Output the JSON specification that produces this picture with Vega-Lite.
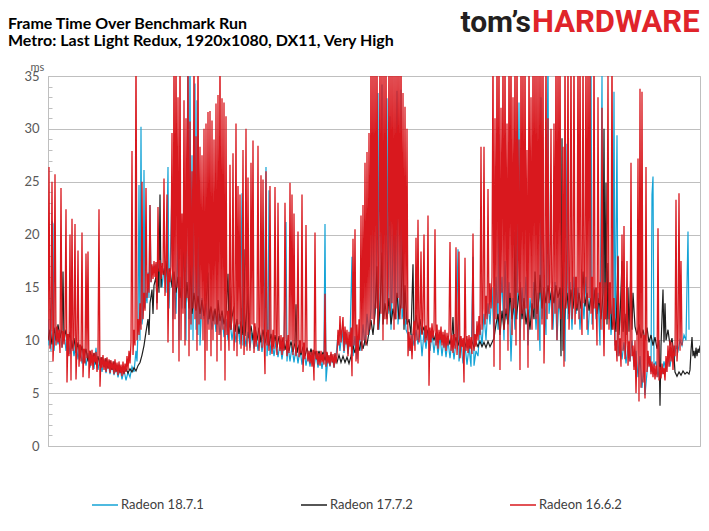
{
  "$schema": "https://vega.github.io/schema/vega-lite/v6.json",
  "width": 652,
  "height": 370,
  "autosize": {"type": "none"},
  "padding": {"left": 48, "top": 76, "right": 9, "bottom": 85},
  "background": "#ffffff",
  "title": {
    "text": ["Frame Time Over Benchmark Run", "Metro: Last Light Redux, 1920x1080, DX11, Very High"],
    "anchor": "start",
    "frame": "group",
    "dx": -40,
    "dy": -8,
    "offset": -50,
    "font": "Lato",
    "fontSize": 16,
    "fontWeight": "bold",
    "lineHeight": 17,
    "color": "#000000"
  },
  "datasets": {
    "c18": [
      {"x":0,"y":12.0},{"x":1,"y":9.5},{"x":2,"y":11.0},{"x":3,"y":9.0},{"x":4,"y":21.3},{"x":5,"y":21.0},{"x":6,"y":9.0},{"x":8,"y":11.2},{"x":10,"y":9.6},{"x":12,"y":11.0},{"x":14,"y":9.3},{"x":16,"y":10.8},{"x":18,"y":9.0},{"x":20,"y":10.5},{"x":22,"y":8.7},{"x":24,"y":10.0},{"x":26,"y":8.5},{"x":28,"y":9.8},{"x":30,"y":8.2},{"x":32,"y":9.4},{"x":34,"y":7.8},{"x":36,"y":9.0},{"x":38,"y":7.6},{"x":40,"y":8.8},{"x":42,"y":7.4},{"x":44,"y":8.6},{"x":46,"y":7.3},{"x":48,"y":9.3},{"x":50,"y":7.2},{"x":52,"y":8.3},{"x":54,"y":7.0},{"x":56,"y":8.2},{"x":58,"y":6.9},{"x":60,"y":8.0},{"x":62,"y":6.8},{"x":64,"y":7.8},{"x":66,"y":6.7},{"x":68,"y":7.6},{"x":70,"y":6.5},{"x":72,"y":7.4},{"x":74,"y":6.3},{"x":76,"y":7.2},{"x":78,"y":6.2},{"x":80,"y":7.0},{"x":82,"y":6.5},{"x":84,"y":7.5},{"x":86,"y":7.0},{"x":88,"y":9.0},{"x":89,"y":8.0},{"x":90,"y":11.0},{"x":91,"y":24.7},{"x":92,"y":10.0},{"x":93,"y":30.2},{"x":94,"y":11.5},{"x":95,"y":12.5},{"x":96,"y":26.1},{"x":97,"y":13.0},{"x":98,"y":14.5},{"x":99,"y":13.5},{"x":100,"y":16.4},{"x":101,"y":14.0},{"x":102,"y":22.8},{"x":103,"y":15.5},{"x":104,"y":17.0},{"x":106,"y":16.5},{"x":108,"y":17.2},{"x":110,"y":16.0},{"x":112,"y":18.5},{"x":114,"y":15.0},{"x":116,"y":16.8},{"x":118,"y":14.5},{"x":120,"y":26.4},{"x":121,"y":13.0},{"x":122,"y":16.0},{"x":124,"y":24.5},{"x":125,"y":12.0},{"x":126,"y":16.0},{"x":128,"y":12.5},{"x":130,"y":20.0},{"x":131,"y":10.0},{"x":132,"y":16.0},{"x":134,"y":13.0},{"x":136,"y":19.0},{"x":138,"y":10.0},{"x":140,"y":38},{"x":141,"y":12.0},{"x":142,"y":38},{"x":143,"y":11.0},{"x":144,"y":27.5},{"x":145,"y":10.0},{"x":147,"y":34.3},{"x":148,"y":11.0},{"x":149,"y":32.7},{"x":150,"y":10.5},{"x":151,"y":21.3},{"x":152,"y":9.5},{"x":154,"y":14.0},{"x":156,"y":12.0},{"x":158,"y":13.5},{"x":160,"y":11.5},{"x":162,"y":13.0},{"x":164,"y":11.0},{"x":166,"y":12.8},{"x":168,"y":10.8},{"x":170,"y":12.5},{"x":172,"y":10.5},{"x":174,"y":12.3},{"x":176,"y":10.3},{"x":178,"y":12.0},{"x":180,"y":10.0},{"x":182,"y":11.8},{"x":184,"y":10.0},{"x":186,"y":11.5},{"x":188,"y":9.8},{"x":190,"y":11.3},{"x":192,"y":9.6},{"x":194,"y":23.9},{"x":195,"y":9.5},{"x":196,"y":11.0},{"x":198,"y":9.4},{"x":200,"y":10.8},{"x":202,"y":9.3},{"x":204,"y":10.7},{"x":206,"y":9.2},{"x":208,"y":10.6},{"x":210,"y":9.0},{"x":212,"y":10.5},{"x":214,"y":8.9},{"x":216,"y":10.3},{"x":218,"y":26.4},{"x":219,"y":8.5},{"x":220,"y":10.2},{"x":221,"y":24.2},{"x":222,"y":8.6},{"x":224,"y":10.0},{"x":226,"y":8.5},{"x":228,"y":9.8},{"x":230,"y":8.4},{"x":232,"y":9.7},{"x":234,"y":8.2},{"x":236,"y":9.6},{"x":238,"y":21.2},{"x":239,"y":8.0},{"x":240,"y":9.5},{"x":242,"y":8.0},{"x":244,"y":9.4},{"x":246,"y":7.9},{"x":248,"y":9.3},{"x":250,"y":7.8},{"x":252,"y":9.2},{"x":254,"y":7.7},{"x":256,"y":9.0},{"x":258,"y":7.6},{"x":260,"y":8.8},{"x":262,"y":7.5},{"x":264,"y":8.8},{"x":266,"y":7.4},{"x":268,"y":8.7},{"x":270,"y":7.4},{"x":272,"y":8.6},{"x":274,"y":7.3},{"x":276,"y":8.6},{"x":277,"y":21.0},{"x":278,"y":6.1},{"x":280,"y":8.5},{"x":282,"y":7.5},{"x":284,"y":8.6},{"x":286,"y":7.4},{"x":288,"y":8.5},{"x":290,"y":10.5},{"x":292,"y":9.0},{"x":294,"y":11.0},{"x":296,"y":8.8},{"x":298,"y":10.5},{"x":300,"y":8.7},{"x":302,"y":10.2},{"x":304,"y":17.9},{"x":305,"y":8.5},{"x":307,"y":10.4},{"x":309,"y":8.2},{"x":311,"y":10.6},{"x":313,"y":9.0},{"x":315,"y":11.5},{"x":317,"y":9.5},{"x":319,"y":12.5},{"x":321,"y":10.5},{"x":323,"y":13.0},{"x":325,"y":29.7},{"x":326,"y":12.0},{"x":328,"y":14.0},{"x":330,"y":33.4},{"x":331,"y":11.0},{"x":333,"y":14.5},{"x":334,"y":34.2},{"x":335,"y":11.5},{"x":337,"y":14.0},{"x":339,"y":32.9},{"x":340,"y":12.5},{"x":342,"y":31.2},{"x":343,"y":11.0},{"x":344,"y":14.0},{"x":346,"y":25.4},{"x":347,"y":12.0},{"x":349,"y":33.6},{"x":350,"y":11.5},{"x":352,"y":14.0},{"x":353,"y":33.7},{"x":354,"y":12.0},{"x":356,"y":13.5},{"x":358,"y":11.0},{"x":360,"y":10.5},{"x":362,"y":9.0},{"x":364,"y":10.6},{"x":366,"y":9.5},{"x":368,"y":11.0},{"x":370,"y":9.6},{"x":372,"y":11.2},{"x":374,"y":8.5},{"x":376,"y":10.8},{"x":378,"y":9.2},{"x":380,"y":11.0},{"x":382,"y":9.0},{"x":384,"y":10.7},{"x":386,"y":8.8},{"x":388,"y":10.5},{"x":390,"y":8.6},{"x":392,"y":10.4},{"x":394,"y":8.5},{"x":396,"y":10.2},{"x":398,"y":8.4},{"x":400,"y":10.0},{"x":402,"y":8.3},{"x":404,"y":10.0},{"x":406,"y":8.2},{"x":408,"y":9.8},{"x":410,"y":18.6},{"x":411,"y":8.0},{"x":413,"y":9.6},{"x":415,"y":7.8},{"x":417,"y":9.5},{"x":419,"y":7.7},{"x":421,"y":9.4},{"x":423,"y":7.5},{"x":425,"y":17.9},{"x":426,"y":7.6},{"x":428,"y":9.0},{"x":430,"y":8.5},{"x":432,"y":11.5},{"x":434,"y":9.5},{"x":436,"y":12.5},{"x":438,"y":10.0},{"x":440,"y":13.5},{"x":442,"y":11.5},{"x":444,"y":15.0},{"x":446,"y":10.0},{"x":448,"y":16.0},{"x":450,"y":11.0},{"x":451,"y":29.5},{"x":452,"y":12.5},{"x":454,"y":16.0},{"x":456,"y":10.0},{"x":457,"y":17.5},{"x":459,"y":12.0},{"x":461,"y":15.5},{"x":463,"y":8.0},{"x":465,"y":14.0},{"x":467,"y":11.0},{"x":468,"y":29.8},{"x":469,"y":12.0},{"x":471,"y":32.5},{"x":472,"y":10.0},{"x":474,"y":15.0},{"x":476,"y":12.0},{"x":478,"y":16.0},{"x":480,"y":9.5},{"x":482,"y":14.0},{"x":484,"y":12.0},{"x":486,"y":15.5},{"x":488,"y":11.0},{"x":490,"y":14.5},{"x":492,"y":9.0},{"x":493,"y":33.0},{"x":494,"y":12.0},{"x":496,"y":15.0},{"x":498,"y":10.5},{"x":500,"y":38},{"x":501,"y":12.5},{"x":503,"y":14.5},{"x":505,"y":11.0},{"x":507,"y":15.5},{"x":509,"y":10.0},{"x":511,"y":14.0},{"x":513,"y":12.0},{"x":515,"y":15.0},{"x":517,"y":8.0},{"x":519,"y":28.6},{"x":520,"y":12.0},{"x":522,"y":15.5},{"x":524,"y":11.0},{"x":526,"y":16.0},{"x":528,"y":12.5},{"x":530,"y":15.0},{"x":532,"y":11.0},{"x":534,"y":14.5},{"x":536,"y":12.0},{"x":538,"y":16.0},{"x":540,"y":10.5},{"x":542,"y":14.0},{"x":543,"y":38},{"x":544,"y":11.5},{"x":546,"y":15.0},{"x":548,"y":12.0},{"x":550,"y":14.5},{"x":552,"y":9.5},{"x":554,"y":35.0},{"x":555,"y":11.0},{"x":557,"y":14.0},{"x":559,"y":12.0},{"x":561,"y":15.0},{"x":563,"y":10.5},{"x":565,"y":13.5},{"x":566,"y":33.5},{"x":567,"y":9.5},{"x":569,"y":29.4},{"x":570,"y":8.5},{"x":572,"y":10.0},{"x":574,"y":8.2},{"x":576,"y":9.8},{"x":578,"y":7.8},{"x":580,"y":9.5},{"x":582,"y":8.0},{"x":584,"y":10.0},{"x":586,"y":7.5},{"x":588,"y":9.0},{"x":590,"y":6.5},{"x":592,"y":8.5},{"x":594,"y":5.5},{"x":596,"y":7.5},{"x":597,"y":4.8},{"x":599,"y":7.0},{"x":601,"y":8.5},{"x":603,"y":7.0},{"x":604,"y":23.8},{"x":605,"y":25.5},{"x":606,"y":7.5},{"x":608,"y":8.0},{"x":610,"y":6.5},{"x":612,"y":7.8},{"x":614,"y":6.8},{"x":616,"y":8.0},{"x":618,"y":7.0},{"x":620,"y":8.5},{"x":622,"y":7.5},{"x":624,"y":8.8},{"x":626,"y":8.0},{"x":628,"y":9.5},{"x":630,"y":9.0},{"x":632,"y":10.0},{"x":634,"y":9.5},{"x":636,"y":10.5},{"x":638,"y":10.0},{"x":640,"y":20.3},{"x":641,"y":11.0}
    ],
    "c17": [
      {"x":0,"y":10.0},{"x":2,"y":11.0},{"x":4,"y":9.6},{"x":6,"y":11.2},{"x":8,"y":10.0},{"x":10,"y":11.5},{"x":12,"y":10.2},{"x":14,"y":11.0},{"x":15,"y":16.5},{"x":16,"y":10.0},{"x":18,"y":11.0},{"x":20,"y":9.6},{"x":22,"y":10.8},{"x":24,"y":9.2},{"x":26,"y":10.2},{"x":28,"y":8.8},{"x":30,"y":9.8},{"x":32,"y":8.5},{"x":34,"y":9.5},{"x":36,"y":8.3},{"x":38,"y":9.2},{"x":40,"y":8.0},{"x":42,"y":9.0},{"x":44,"y":7.9},{"x":46,"y":8.8},{"x":48,"y":7.7},{"x":50,"y":8.5},{"x":52,"y":7.6},{"x":54,"y":8.4},{"x":56,"y":7.5},{"x":58,"y":8.3},{"x":60,"y":7.4},{"x":62,"y":8.1},{"x":64,"y":7.2},{"x":66,"y":8.0},{"x":68,"y":7.1},{"x":70,"y":7.6},{"x":72,"y":7.0},{"x":74,"y":7.4},{"x":76,"y":6.9},{"x":78,"y":7.3},{"x":80,"y":6.9},{"x":82,"y":7.3},{"x":84,"y":7.0},{"x":86,"y":7.4},{"x":88,"y":7.1},{"x":90,"y":7.6},{"x":92,"y":7.9},{"x":94,"y":8.6},{"x":96,"y":9.5},{"x":98,"y":10.8},{"x":100,"y":12.0},{"x":101,"y":10.5},{"x":102,"y":13.5},{"x":104,"y":14.8},{"x":105,"y":12.5},{"x":106,"y":15.2},{"x":108,"y":16.0},{"x":109,"y":13.5},{"x":110,"y":16.8},{"x":111,"y":14.5},{"x":112,"y":23.8},{"x":113,"y":15.0},{"x":114,"y":17.0},{"x":116,"y":16.2},{"x":118,"y":17.5},{"x":120,"y":15.5},{"x":122,"y":16.8},{"x":124,"y":15.0},{"x":126,"y":16.5},{"x":128,"y":14.5},{"x":130,"y":16.0},{"x":132,"y":14.0},{"x":134,"y":15.5},{"x":136,"y":19.8},{"x":137,"y":13.0},{"x":139,"y":15.5},{"x":141,"y":13.0},{"x":143,"y":17.3},{"x":144,"y":12.5},{"x":146,"y":14.5},{"x":148,"y":12.8},{"x":150,"y":14.2},{"x":152,"y":12.5},{"x":154,"y":13.8},{"x":156,"y":12.3},{"x":158,"y":13.5},{"x":160,"y":16.4},{"x":161,"y":12.0},{"x":163,"y":13.2},{"x":165,"y":11.8},{"x":167,"y":13.0},{"x":169,"y":11.5},{"x":170,"y":13.8},{"x":172,"y":11.8},{"x":174,"y":12.8},{"x":176,"y":11.5},{"x":178,"y":12.5},{"x":180,"y":16.3},{"x":181,"y":11.2},{"x":182,"y":15.0},{"x":183,"y":11.0},{"x":184,"y":12.2},{"x":186,"y":13.2},{"x":187,"y":10.8},{"x":189,"y":12.0},{"x":191,"y":10.6},{"x":193,"y":11.8},{"x":195,"y":10.5},{"x":196,"y":18.6},{"x":197,"y":10.4},{"x":198,"y":11.6},{"x":200,"y":15.0},{"x":201,"y":10.2},{"x":203,"y":11.4},{"x":205,"y":10.0},{"x":207,"y":11.3},{"x":209,"y":10.0},{"x":211,"y":11.2},{"x":213,"y":9.8},{"x":215,"y":11.0},{"x":217,"y":9.7},{"x":219,"y":10.8},{"x":221,"y":9.5},{"x":223,"y":10.6},{"x":225,"y":9.4},{"x":227,"y":10.5},{"x":229,"y":9.3},{"x":231,"y":10.4},{"x":233,"y":9.2},{"x":235,"y":10.2},{"x":237,"y":9.1},{"x":239,"y":10.0},{"x":241,"y":9.0},{"x":243,"y":9.9},{"x":245,"y":8.9},{"x":247,"y":9.8},{"x":248,"y":13.4},{"x":249,"y":8.8},{"x":251,"y":9.6},{"x":253,"y":8.6},{"x":255,"y":9.4},{"x":257,"y":8.5},{"x":259,"y":9.3},{"x":261,"y":8.4},{"x":263,"y":9.2},{"x":265,"y":8.3},{"x":267,"y":9.0},{"x":269,"y":8.2},{"x":271,"y":9.0},{"x":273,"y":8.2},{"x":275,"y":8.9},{"x":277,"y":8.1},{"x":279,"y":8.8},{"x":281,"y":8.0},{"x":283,"y":8.7},{"x":285,"y":7.9},{"x":287,"y":8.6},{"x":289,"y":7.9},{"x":291,"y":8.6},{"x":293,"y":7.9},{"x":295,"y":8.5},{"x":297,"y":7.9},{"x":299,"y":8.4},{"x":301,"y":7.8},{"x":303,"y":8.5},{"x":305,"y":9.5},{"x":307,"y":8.8},{"x":309,"y":9.8},{"x":311,"y":9.0},{"x":313,"y":9.9},{"x":315,"y":9.2},{"x":317,"y":10.0},{"x":319,"y":9.6},{"x":321,"y":10.8},{"x":323,"y":11.9},{"x":325,"y":10.5},{"x":327,"y":12.5},{"x":329,"y":17.0},{"x":330,"y":11.0},{"x":332,"y":13.0},{"x":334,"y":18.3},{"x":335,"y":11.5},{"x":337,"y":13.5},{"x":339,"y":12.0},{"x":341,"y":14.0},{"x":343,"y":11.5},{"x":345,"y":13.0},{"x":347,"y":12.0},{"x":349,"y":14.5},{"x":351,"y":12.0},{"x":353,"y":13.5},{"x":355,"y":19.5},{"x":356,"y":11.0},{"x":357,"y":15.2},{"x":359,"y":11.5},{"x":361,"y":12.0},{"x":363,"y":10.5},{"x":365,"y":17.2},{"x":366,"y":10.5},{"x":368,"y":12.4},{"x":370,"y":11.0},{"x":372,"y":12.0},{"x":374,"y":10.6},{"x":376,"y":11.3},{"x":378,"y":10.2},{"x":380,"y":11.0},{"x":382,"y":10.0},{"x":384,"y":10.8},{"x":386,"y":10.0},{"x":388,"y":10.7},{"x":390,"y":9.8},{"x":392,"y":10.6},{"x":394,"y":9.8},{"x":396,"y":10.5},{"x":398,"y":9.7},{"x":400,"y":10.4},{"x":402,"y":9.6},{"x":404,"y":10.6},{"x":405,"y":12.2},{"x":406,"y":9.6},{"x":408,"y":10.3},{"x":410,"y":9.5},{"x":412,"y":10.2},{"x":414,"y":9.5},{"x":416,"y":10.1},{"x":418,"y":9.4},{"x":420,"y":10.0},{"x":422,"y":9.3},{"x":424,"y":9.9},{"x":426,"y":9.3},{"x":428,"y":9.8},{"x":430,"y":9.4},{"x":432,"y":9.9},{"x":434,"y":9.4},{"x":436,"y":9.8},{"x":438,"y":9.3},{"x":440,"y":9.9},{"x":442,"y":9.4},{"x":444,"y":9.8},{"x":446,"y":10.2},{"x":448,"y":11.5},{"x":450,"y":12.5},{"x":452,"y":10.5},{"x":454,"y":12.8},{"x":456,"y":11.0},{"x":458,"y":13.0},{"x":460,"y":11.5},{"x":462,"y":14.5},{"x":464,"y":12.0},{"x":466,"y":13.5},{"x":467,"y":20.3},{"x":468,"y":12.0},{"x":470,"y":13.5},{"x":472,"y":15.5},{"x":474,"y":12.0},{"x":476,"y":14.0},{"x":478,"y":11.5},{"x":480,"y":12.9},{"x":482,"y":11.0},{"x":484,"y":13.5},{"x":486,"y":12.0},{"x":487,"y":16.5},{"x":489,"y":12.5},{"x":491,"y":14.0},{"x":492,"y":16.2},{"x":494,"y":13.0},{"x":496,"y":15.0},{"x":498,"y":13.5},{"x":500,"y":15.2},{"x":502,"y":13.8},{"x":504,"y":15.0},{"x":506,"y":13.5},{"x":508,"y":15.2},{"x":510,"y":14.0},{"x":512,"y":15.0},{"x":513,"y":8.5},{"x":514,"y":29.1},{"x":515,"y":9.0},{"x":517,"y":13.0},{"x":519,"y":14.5},{"x":521,"y":12.5},{"x":523,"y":14.8},{"x":525,"y":13.0},{"x":527,"y":15.0},{"x":529,"y":12.8},{"x":531,"y":14.5},{"x":533,"y":13.0},{"x":535,"y":16.5},{"x":537,"y":13.2},{"x":539,"y":14.5},{"x":541,"y":12.8},{"x":543,"y":14.0},{"x":545,"y":13.0},{"x":547,"y":14.8},{"x":549,"y":12.5},{"x":551,"y":14.0},{"x":553,"y":12.0},{"x":555,"y":14.5},{"x":556,"y":30.0},{"x":557,"y":12.0},{"x":558,"y":24.9},{"x":559,"y":11.5},{"x":560,"y":17.3},{"x":561,"y":12.0},{"x":562,"y":14.8},{"x":564,"y":11.0},{"x":566,"y":12.5},{"x":568,"y":10.8},{"x":570,"y":17.9},{"x":571,"y":10.5},{"x":572,"y":12.0},{"x":574,"y":17.5},{"x":575,"y":10.8},{"x":577,"y":12.5},{"x":578,"y":10.5},{"x":580,"y":15.0},{"x":581,"y":10.8},{"x":583,"y":16.9},{"x":584,"y":11.0},{"x":585,"y":14.5},{"x":587,"y":11.3},{"x":589,"y":10.5},{"x":591,"y":11.5},{"x":593,"y":10.2},{"x":595,"y":11.0},{"x":597,"y":10.0},{"x":599,"y":11.2},{"x":601,"y":9.8},{"x":603,"y":10.5},{"x":605,"y":9.5},{"x":607,"y":10.3},{"x":609,"y":9.2},{"x":611,"y":10.0},{"x":612,"y":3.8},{"x":613,"y":9.5},{"x":615,"y":14.8},{"x":616,"y":9.8},{"x":617,"y":13.5},{"x":618,"y":10.0},{"x":620,"y":11.0},{"x":622,"y":9.5},{"x":624,"y":10.2},{"x":626,"y":8.5},{"x":627,"y":7.0},{"x":629,"y":6.6},{"x":631,"y":7.0},{"x":633,"y":6.7},{"x":635,"y":7.1},{"x":637,"y":6.8},{"x":639,"y":7.0},{"x":641,"y":6.8},{"x":642,"y":7.2},{"x":643,"y":9.0},{"x":644,"y":10.3},{"x":645,"y":8.5},{"x":646,"y":9.0},{"x":647,"y":8.3},{"x":648,"y":9.3},{"x":649,"y":8.5},{"x":650,"y":9.2},{"x":651,"y":8.8},{"x":652,"y":9.5}
    ],
    "c16": [
      {"x":0,"y":10.0},{"x":1,"y":26.4},{"x":2,"y":9.2},{"x":3,"y":11.2},{"x":4,"y":25.0},{"x":5,"y":8.0},{"x":6,"y":11.0},{"x":7,"y":25.7},{"x":8,"y":9.5},{"x":9,"y":11.3},{"x":10,"y":9.8},{"x":11,"y":11.0},{"x":12,"y":8.8},{"x":13,"y":24.4},{"x":14,"y":9.3},{"x":15,"y":10.9},{"x":16,"y":9.6},{"x":17,"y":11.2},{"x":18,"y":22.4},{"x":19,"y":6.0},{"x":20,"y":10.6},{"x":21,"y":8.5},{"x":22,"y":20.0},{"x":23,"y":6.2},{"x":24,"y":21.5},{"x":25,"y":9.0},{"x":26,"y":10.5},{"x":27,"y":21.0},{"x":28,"y":6.3},{"x":29,"y":9.8},{"x":30,"y":18.5},{"x":31,"y":7.5},{"x":32,"y":9.6},{"x":33,"y":8.0},{"x":34,"y":20.2},{"x":35,"y":6.5},{"x":36,"y":9.2},{"x":37,"y":7.8},{"x":38,"y":18.2},{"x":39,"y":8.3},{"x":40,"y":18.4},{"x":41,"y":6.4},{"x":42,"y":9.0},{"x":43,"y":7.6},{"x":44,"y":9.1},{"x":45,"y":7.2},{"x":46,"y":8.8},{"x":47,"y":7.9},{"x":48,"y":8.9},{"x":49,"y":7.0},{"x":50,"y":8.6},{"x":51,"y":22.4},{"x":52,"y":5.6},{"x":53,"y":8.4},{"x":54,"y":7.4},{"x":55,"y":8.6},{"x":56,"y":7.2},{"x":57,"y":8.3},{"x":58,"y":7.0},{"x":59,"y":8.4},{"x":60,"y":7.3},{"x":61,"y":8.2},{"x":62,"y":6.9},{"x":63,"y":8.1},{"x":64,"y":7.2},{"x":65,"y":8.0},{"x":66,"y":6.8},{"x":67,"y":8.2},{"x":68,"y":7.0},{"x":69,"y":7.9},{"x":70,"y":6.7},{"x":71,"y":8.0},{"x":72,"y":6.9},{"x":73,"y":7.7},{"x":74,"y":6.6},{"x":75,"y":8.0},{"x":76,"y":6.8},{"x":77,"y":7.8},{"x":78,"y":7.0},{"x":79,"y":8.5},{"x":80,"y":7.2},{"x":81,"y":9.0},{"x":82,"y":7.8},{"x":83,"y":9.8},{"x":84,"y":27.9},{"x":85,"y":8.6},{"x":86,"y":11.0},{"x":87,"y":9.5},{"x":88,"y":38},{"x":89,"y":10.0},{"x":90,"y":12.0},{"x":91,"y":10.5},{"x":92,"y":13.5},{"x":93,"y":11.0},{"x":94,"y":25.0},{"x":95,"y":12.0},{"x":96,"y":14.5},{"x":97,"y":12.8},{"x":98,"y":24.4},{"x":99,"y":14.0},{"x":100,"y":16.3},{"x":101,"y":14.5},{"x":102,"y":22.8},{"x":103,"y":15.5},{"x":104,"y":17.2},{"x":105,"y":15.8},{"x":106,"y":17.5},{"x":107,"y":16.0},{"x":108,"y":17.4},{"x":109,"y":12.9},{"x":110,"y":22.6},{"x":111,"y":16.5},{"x":112,"y":17.6},{"x":113,"y":15.8},{"x":114,"y":17.3},{"x":115,"y":16.2},{"x":116,"y":25.3},{"x":117,"y":14.2},{"x":118,"y":17.2},{"x":119,"y":23.8},{"x":120,"y":9.8},{"x":121,"y":16.8},{"x":122,"y":15.5},{"x":123,"y":17.0},{"x":124,"y":29.6},{"x":125,"y":8.8},{"x":126,"y":38},{"x":127,"y":12.0},{"x":128,"y":38},{"x":129,"y":15.0},{"x":130,"y":33.0},{"x":131,"y":8.0},{"x":132,"y":38},{"x":133,"y":10.0},{"x":134,"y":22.0},{"x":135,"y":12.5},{"x":136,"y":32.7},{"x":137,"y":9.5},{"x":138,"y":31.0},{"x":139,"y":14.0},{"x":140,"y":38},{"x":141,"y":8.5},{"x":142,"y":30.7},{"x":143,"y":11.5},{"x":144,"y":26.0},{"x":145,"y":13.0},{"x":146,"y":38},{"x":147,"y":12.0},{"x":148,"y":29.3},{"x":149,"y":9.0},{"x":150,"y":38},{"x":151,"y":11.5},{"x":152,"y":28.3},{"x":153,"y":12.0},{"x":154,"y":27.5},{"x":155,"y":10.0},{"x":156,"y":30.0},{"x":157,"y":6.2},{"x":158,"y":30.5},{"x":159,"y":9.0},{"x":160,"y":31.6},{"x":161,"y":11.0},{"x":162,"y":31.7},{"x":163,"y":8.5},{"x":164,"y":30.8},{"x":165,"y":10.0},{"x":166,"y":29.0},{"x":167,"y":11.5},{"x":168,"y":32.4},{"x":169,"y":8.0},{"x":170,"y":33.2},{"x":171,"y":10.5},{"x":172,"y":38},{"x":173,"y":9.0},{"x":174,"y":32.9},{"x":175,"y":11.0},{"x":176,"y":32.5},{"x":177,"y":6.2},{"x":178,"y":31.2},{"x":179,"y":10.5},{"x":180,"y":12.8},{"x":181,"y":9.0},{"x":182,"y":26.6},{"x":183,"y":11.0},{"x":184,"y":12.5},{"x":185,"y":27.7},{"x":186,"y":9.0},{"x":187,"y":12.0},{"x":188,"y":30.5},{"x":189,"y":8.5},{"x":190,"y":24.6},{"x":191,"y":11.5},{"x":192,"y":23.8},{"x":193,"y":9.2},{"x":194,"y":12.0},{"x":195,"y":28.0},{"x":196,"y":8.6},{"x":197,"y":11.8},{"x":198,"y":30.0},{"x":199,"y":9.0},{"x":200,"y":25.4},{"x":201,"y":10.8},{"x":202,"y":9.0},{"x":203,"y":26.8},{"x":204,"y":11.5},{"x":205,"y":28.9},{"x":206,"y":8.8},{"x":207,"y":11.6},{"x":208,"y":9.4},{"x":209,"y":11.0},{"x":210,"y":28.4},{"x":211,"y":9.0},{"x":212,"y":11.4},{"x":213,"y":25.6},{"x":214,"y":9.3},{"x":215,"y":25.2},{"x":216,"y":10.8},{"x":217,"y":6.8},{"x":218,"y":26.0},{"x":219,"y":9.5},{"x":220,"y":11.0},{"x":221,"y":9.0},{"x":222,"y":24.6},{"x":223,"y":10.5},{"x":224,"y":8.7},{"x":225,"y":11.0},{"x":226,"y":9.2},{"x":227,"y":24.5},{"x":228,"y":10.7},{"x":229,"y":8.6},{"x":230,"y":23.0},{"x":231,"y":10.6},{"x":232,"y":9.0},{"x":233,"y":10.5},{"x":234,"y":8.6},{"x":235,"y":10.3},{"x":236,"y":9.0},{"x":237,"y":23.0},{"x":238,"y":10.2},{"x":239,"y":8.5},{"x":240,"y":10.5},{"x":241,"y":8.8},{"x":242,"y":24.9},{"x":243,"y":10.0},{"x":244,"y":23.8},{"x":245,"y":8.6},{"x":246,"y":22.0},{"x":247,"y":10.0},{"x":248,"y":8.5},{"x":249,"y":10.2},{"x":250,"y":20.3},{"x":251,"y":8.4},{"x":252,"y":10.0},{"x":253,"y":8.8},{"x":254,"y":23.8},{"x":255,"y":7.0},{"x":256,"y":9.8},{"x":257,"y":8.2},{"x":258,"y":20.9},{"x":259,"y":9.0},{"x":260,"y":8.0},{"x":261,"y":9.0},{"x":262,"y":7.8},{"x":263,"y":8.9},{"x":264,"y":7.5},{"x":265,"y":9.1},{"x":266,"y":6.2},{"x":267,"y":20.2},{"x":268,"y":8.2},{"x":269,"y":9.0},{"x":270,"y":7.7},{"x":271,"y":8.8},{"x":272,"y":7.6},{"x":273,"y":9.0},{"x":274,"y":7.9},{"x":275,"y":8.7},{"x":276,"y":7.7},{"x":277,"y":14.4},{"x":278,"y":7.5},{"x":279,"y":8.9},{"x":280,"y":7.8},{"x":281,"y":8.6},{"x":282,"y":7.6},{"x":283,"y":8.9},{"x":284,"y":7.9},{"x":285,"y":8.7},{"x":286,"y":7.4},{"x":287,"y":8.8},{"x":288,"y":7.8},{"x":289,"y":8.6},{"x":290,"y":11.0},{"x":291,"y":9.5},{"x":292,"y":12.3},{"x":293,"y":9.8},{"x":294,"y":11.0},{"x":295,"y":12.2},{"x":296,"y":9.0},{"x":297,"y":11.3},{"x":298,"y":9.6},{"x":299,"y":11.0},{"x":300,"y":8.5},{"x":301,"y":10.8},{"x":302,"y":9.4},{"x":303,"y":11.2},{"x":304,"y":6.6},{"x":305,"y":19.6},{"x":306,"y":9.5},{"x":307,"y":20.5},{"x":308,"y":8.0},{"x":309,"y":11.5},{"x":310,"y":7.8},{"x":311,"y":12.0},{"x":312,"y":10.0},{"x":313,"y":21.8},{"x":314,"y":9.0},{"x":315,"y":22.8},{"x":316,"y":10.0},{"x":317,"y":26.8},{"x":318,"y":9.5},{"x":319,"y":27.8},{"x":320,"y":10.5},{"x":321,"y":29.6},{"x":322,"y":11.0},{"x":323,"y":38},{"x":324,"y":12.0},{"x":325,"y":38},{"x":326,"y":11.5},{"x":327,"y":38},{"x":328,"y":13.0},{"x":329,"y":38},{"x":330,"y":11.0},{"x":331,"y":15.5},{"x":332,"y":38},{"x":333,"y":12.5},{"x":334,"y":38},{"x":335,"y":10.0},{"x":336,"y":38},{"x":337,"y":12.0},{"x":338,"y":38},{"x":339,"y":11.5},{"x":340,"y":15.0},{"x":341,"y":38},{"x":342,"y":12.8},{"x":343,"y":38},{"x":344,"y":13.5},{"x":345,"y":38},{"x":346,"y":11.0},{"x":347,"y":38},{"x":348,"y":12.0},{"x":349,"y":38},{"x":350,"y":14.0},{"x":351,"y":38},{"x":352,"y":12.0},{"x":353,"y":38},{"x":354,"y":13.0},{"x":355,"y":33.4},{"x":356,"y":11.5},{"x":357,"y":32.1},{"x":358,"y":12.0},{"x":359,"y":30.0},{"x":360,"y":8.5},{"x":361,"y":10.8},{"x":362,"y":9.0},{"x":363,"y":10.5},{"x":364,"y":8.2},{"x":365,"y":10.6},{"x":366,"y":11.8},{"x":367,"y":9.0},{"x":368,"y":19.7},{"x":369,"y":10.0},{"x":370,"y":21.4},{"x":371,"y":9.8},{"x":372,"y":11.5},{"x":373,"y":18.4},{"x":374,"y":10.5},{"x":375,"y":12.0},{"x":376,"y":20.0},{"x":377,"y":9.8},{"x":378,"y":11.4},{"x":379,"y":10.0},{"x":380,"y":21.8},{"x":381,"y":5.7},{"x":382,"y":11.2},{"x":383,"y":9.8},{"x":384,"y":11.6},{"x":385,"y":10.2},{"x":386,"y":11.0},{"x":387,"y":20.5},{"x":388,"y":9.5},{"x":389,"y":11.5},{"x":390,"y":9.2},{"x":391,"y":11.0},{"x":392,"y":10.0},{"x":393,"y":11.3},{"x":394,"y":9.5},{"x":395,"y":10.8},{"x":396,"y":9.3},{"x":397,"y":11.0},{"x":398,"y":9.0},{"x":399,"y":10.7},{"x":400,"y":9.5},{"x":401,"y":10.8},{"x":402,"y":19.3},{"x":403,"y":9.0},{"x":404,"y":10.5},{"x":405,"y":8.8},{"x":406,"y":10.6},{"x":407,"y":9.2},{"x":408,"y":18.8},{"x":409,"y":8.6},{"x":410,"y":10.5},{"x":411,"y":18.4},{"x":412,"y":8.3},{"x":413,"y":10.4},{"x":414,"y":9.4},{"x":415,"y":10.2},{"x":416,"y":6.0},{"x":417,"y":17.8},{"x":418,"y":9.0},{"x":419,"y":10.4},{"x":420,"y":8.8},{"x":421,"y":10.5},{"x":422,"y":9.2},{"x":423,"y":10.3},{"x":424,"y":8.7},{"x":425,"y":20.1},{"x":426,"y":9.0},{"x":427,"y":10.6},{"x":428,"y":9.4},{"x":429,"y":11.8},{"x":430,"y":10.0},{"x":431,"y":12.3},{"x":432,"y":10.5},{"x":433,"y":28.3},{"x":434,"y":11.0},{"x":435,"y":13.0},{"x":436,"y":28.3},{"x":437,"y":11.5},{"x":438,"y":14.2},{"x":439,"y":12.0},{"x":440,"y":24.3},{"x":441,"y":12.5},{"x":442,"y":15.4},{"x":443,"y":13.0},{"x":444,"y":16.0},{"x":445,"y":38},{"x":446,"y":7.5},{"x":447,"y":31.0},{"x":448,"y":12.0},{"x":449,"y":38},{"x":450,"y":13.5},{"x":451,"y":38},{"x":452,"y":7.2},{"x":453,"y":32.0},{"x":454,"y":14.5},{"x":455,"y":38},{"x":456,"y":11.0},{"x":457,"y":38},{"x":458,"y":12.5},{"x":459,"y":30.5},{"x":460,"y":9.0},{"x":461,"y":38},{"x":462,"y":14.0},{"x":463,"y":38},{"x":464,"y":10.5},{"x":465,"y":33.0},{"x":466,"y":13.0},{"x":467,"y":38},{"x":468,"y":9.5},{"x":469,"y":38},{"x":470,"y":14.5},{"x":471,"y":29.0},{"x":472,"y":7.2},{"x":473,"y":38},{"x":474,"y":12.5},{"x":475,"y":38},{"x":476,"y":10.0},{"x":477,"y":38},{"x":478,"y":13.0},{"x":479,"y":28.0},{"x":480,"y":7.4},{"x":481,"y":38},{"x":482,"y":14.0},{"x":483,"y":33.0},{"x":484,"y":11.0},{"x":485,"y":38},{"x":486,"y":13.0},{"x":487,"y":38},{"x":488,"y":12.0},{"x":489,"y":38},{"x":490,"y":10.0},{"x":491,"y":38},{"x":492,"y":14.5},{"x":493,"y":38},{"x":494,"y":11.5},{"x":495,"y":38},{"x":496,"y":7.8},{"x":497,"y":15.0},{"x":498,"y":38},{"x":499,"y":12.0},{"x":500,"y":31.0},{"x":501,"y":13.5},{"x":502,"y":15.5},{"x":503,"y":30.0},{"x":504,"y":11.0},{"x":505,"y":14.0},{"x":506,"y":30.5},{"x":507,"y":12.5},{"x":508,"y":38},{"x":509,"y":10.0},{"x":510,"y":38},{"x":511,"y":13.0},{"x":512,"y":38},{"x":513,"y":12.0},{"x":514,"y":15.0},{"x":515,"y":28.3},{"x":516,"y":7.5},{"x":517,"y":38},{"x":518,"y":13.0},{"x":519,"y":15.5},{"x":520,"y":38},{"x":521,"y":11.0},{"x":522,"y":14.5},{"x":523,"y":38},{"x":524,"y":12.0},{"x":525,"y":15.0},{"x":526,"y":38},{"x":527,"y":11.5},{"x":528,"y":16.0},{"x":529,"y":13.0},{"x":530,"y":38},{"x":531,"y":12.0},{"x":532,"y":38},{"x":533,"y":14.5},{"x":534,"y":10.5},{"x":535,"y":38},{"x":536,"y":13.5},{"x":537,"y":15.5},{"x":538,"y":38},{"x":539,"y":11.0},{"x":540,"y":38},{"x":541,"y":14.0},{"x":542,"y":38},{"x":543,"y":12.5},{"x":544,"y":16.0},{"x":545,"y":11.0},{"x":546,"y":38},{"x":547,"y":13.0},{"x":548,"y":15.0},{"x":549,"y":9.5},{"x":550,"y":33.0},{"x":551,"y":13.5},{"x":552,"y":15.5},{"x":553,"y":11.0},{"x":554,"y":32.0},{"x":555,"y":14.0},{"x":556,"y":8.5},{"x":557,"y":15.5},{"x":558,"y":12.0},{"x":559,"y":16.0},{"x":560,"y":35.0},{"x":561,"y":11.0},{"x":562,"y":15.5},{"x":563,"y":12.5},{"x":564,"y":38},{"x":565,"y":11.0},{"x":566,"y":14.0},{"x":567,"y":9.0},{"x":568,"y":10.0},{"x":569,"y":8.0},{"x":570,"y":18.0},{"x":571,"y":8.5},{"x":572,"y":10.2},{"x":573,"y":7.5},{"x":574,"y":20.0},{"x":575,"y":9.0},{"x":576,"y":20.8},{"x":577,"y":8.2},{"x":578,"y":9.8},{"x":579,"y":17.5},{"x":580,"y":7.6},{"x":581,"y":9.9},{"x":582,"y":8.0},{"x":583,"y":26.8},{"x":584,"y":8.5},{"x":585,"y":9.5},{"x":586,"y":7.2},{"x":587,"y":10.0},{"x":588,"y":5.0},{"x":589,"y":9.0},{"x":590,"y":27.2},{"x":591,"y":4.2},{"x":592,"y":33.8},{"x":593,"y":5.5},{"x":594,"y":33.5},{"x":595,"y":6.0},{"x":596,"y":10.5},{"x":597,"y":4.5},{"x":598,"y":26.4},{"x":599,"y":7.0},{"x":600,"y":9.0},{"x":601,"y":7.5},{"x":602,"y":8.5},{"x":603,"y":6.8},{"x":604,"y":8.0},{"x":605,"y":6.5},{"x":606,"y":7.8},{"x":607,"y":6.3},{"x":608,"y":7.6},{"x":609,"y":6.5},{"x":610,"y":20.6},{"x":611,"y":6.2},{"x":612,"y":7.5},{"x":613,"y":6.4},{"x":614,"y":7.8},{"x":615,"y":6.8},{"x":616,"y":7.4},{"x":617,"y":6.2},{"x":618,"y":8.5},{"x":619,"y":7.0},{"x":620,"y":9.5},{"x":621,"y":7.5},{"x":622,"y":10.0},{"x":623,"y":8.0},{"x":624,"y":9.8},{"x":625,"y":7.2},{"x":626,"y":9.5},{"x":627,"y":8.5},{"x":628,"y":23.3},{"x":629,"y":8.0},{"x":630,"y":10.0},{"x":631,"y":23.9},{"x":632,"y":9.0},{"x":633,"y":17.5},{"x":634,"y":9.5}
    ],
    "logo": [
      {"part": "tom’s"},
      {"part": "HARDWARE"}
    ]
  },
  "resolve": {"scale": {"y": "independent"}, "axis": {"y": "independent"}},
  "layer": [
    {
      "encoding": {
        "x": {"field": "x", "type": "quantitative", "scale": {"domain": [0, 652], "nice": false, "zero": false}, "axis": null},
        "y": {
          "field": "y",
          "type": "quantitative",
          "scale": {"domain": [0, 35], "nice": false},
          "axis": {
            "title": "ms",
            "titleAngle": 0,
            "titleAlign": "left",
            "titleBaseline": "bottom",
            "titleX": -18,
            "titleY": -4,
            "titleFont": "Lato",
            "titleFontSize": 11,
            "titleFontWeight": "normal",
            "titleColor": "#595959",
            "values": [0,1,2,3,4,5,6,7,8,9,10,11,12,13,14,15,16,17,18,19,20,21,22,23,24,25,26,27,28,29,30,31,32,33,34,35],
            "labelExpr": "datum.value % 5 === 0 ? datum.label : ''",
            "labelOverlap": false,
            "labelFont": "Lato",
            "labelFontSize": 13,
            "labelColor": "#595959",
            "labelPadding": 13,
            "tickColor": "#BFBFBF",
            "tickSize": -4,
            "domainColor": "#BFBFBF",
            "gridColor": "#BFBFBF",
            "gridOpacity": {"condition": {"test": "datum.value % 5 === 0", "value": 1}, "value": 0}
          }
        }
      },
      "layer": [
        {
          "data": {"name": "c18"},
          "mark": {"type": "line", "strokeWidth": 1.2, "clip": true},
          "encoding": {
            "color": {
              "datum": "Radeon 18.7.1",
              "type": "nominal",
              "scale": {"domain": ["Radeon 18.7.1", "Radeon 17.7.2", "Radeon 16.6.2"], "range": ["#14A3D6", "#1E1E1E", "#D9181E"]},
              "legend": {
                "title": null,
                "orient": "none",
                "legendX": 43,
                "legendY": 415,
                "direction": "horizontal",
                "columns": 3,
                "columnPadding": 93,
                "symbolType": "stroke",
                "symbolSize": 680,
                "symbolStrokeWidth": 1.5,
                "labelFont": "Lato",
                "labelFontSize": 13,
                "labelColor": "#404040",
                "labelOffset": 2
              }
            }
          }
        },
        {
          "data": {"name": "c17"},
          "mark": {"type": "line", "strokeWidth": 1.2, "clip": true},
          "encoding": {"color": {"datum": "Radeon 17.7.2", "type": "nominal"}}
        },
        {
          "data": {"name": "c16"},
          "mark": {"type": "line", "strokeWidth": 1.3, "clip": true},
          "encoding": {"color": {"datum": "Radeon 16.6.2", "type": "nominal"}}
        }
      ]
    },
    {
      "data": {"name": "logo"},
      "transform": [{"filter": "datum.part === 'tom’s'"}],
      "mark": {"type": "text", "align": "right", "baseline": "alphabetic", "font": "Roboto", "fontSize": 30, "fontWeight": "bold", "fill": "#231F20", "clip": false},
      "encoding": {
        "text": {"field": "part", "type": "nominal"},
        "x": {"datum": 483, "type": "quantitative", "axis": null},
        "y": {"datum": 39.2, "type": "quantitative", "scale": {"domain": [0, 35], "nice": false}, "axis": null}
      }
    },
    {
      "data": {"name": "logo"},
      "transform": [{"filter": "datum.part === 'HARDWARE'"}],
      "mark": {"type": "text", "align": "left", "baseline": "alphabetic", "font": "Roboto", "fontSize": 31, "fontWeight": "bold", "fill": "#E0242A", "clip": false},
      "encoding": {
        "text": {"field": "part", "type": "nominal"},
        "x": {"datum": 484, "type": "quantitative", "axis": null},
        "y": {"datum": 39.2, "type": "quantitative", "scale": {"domain": [0, 35], "nice": false}, "axis": null}
      }
    }
  ],
  "config": {
    "view": {"stroke": "#BFBFBF", "strokeWidth": 1}
  }
}
